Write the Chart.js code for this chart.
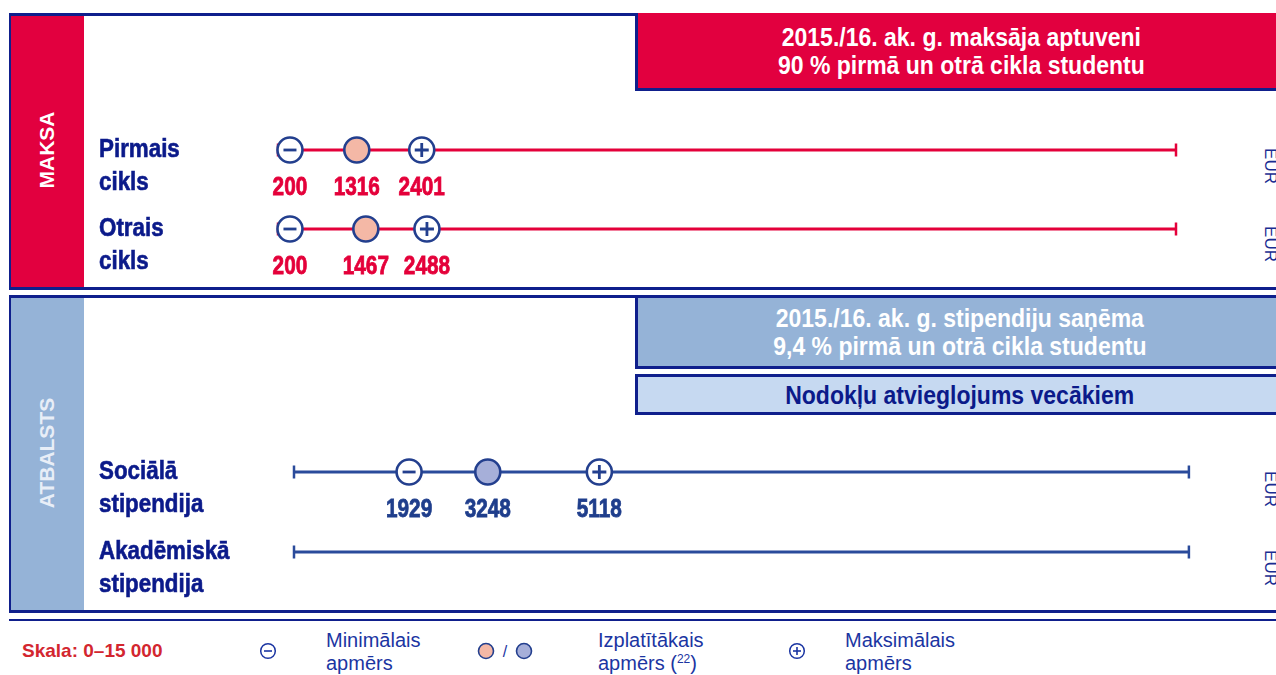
<!DOCTYPE html>
<html><head><meta charset="utf-8">
<script src="https://cdn.jsdelivr.net/npm/chart.js@4.4.1/dist/chart.umd.min.js"></script>
<style>
html,body{margin:0;padding:0;}
body{width:1276px;height:675px;position:relative;overflow:hidden;background:#fff;font-family:"Liberation Sans",Arial,sans-serif;}
.a{position:absolute;box-sizing:border-box;}
.frame{border:3px solid #0f1f8c;left:9px;width:1300px;}
.side{left:11px;width:73px;}
.vt{position:absolute;white-space:nowrap;transform:translate(-50%,-50%) rotate(-90deg);font-weight:bold;font-size:21px;}
.eur{position:absolute;white-space:nowrap;transform:translate(-50%,-50%) rotate(90deg);font-size:17px;color:#1a2d92;}
.box{left:635px;width:660px;border:3px solid #0f1f8c;display:flex;flex-direction:column;align-items:center;justify-content:center;padding-right:10px;}
.btxt{font-weight:bold;font-size:25px;line-height:28px;text-align:center;white-space:nowrap;transform:scaleX(0.92);}
.leg{font-size:20px;color:#1b35a2;line-height:23px;white-space:nowrap;}
canvas{position:absolute;}
</style>
</head><body>
<!-- panel 1 -->
<div class="a frame" style="top:13px;height:277px;"></div>
<div class="a side" style="top:16px;height:271px;background:#E2003F;"></div>
<div class="vt" style="left:47px;top:150px;color:#fff;">MAKSA</div>
<div class="a box" style="top:13px;height:78px;background:#E2003F;border-top:none;border-right:none;">
  <div class="btxt" style="color:#fff;">2015./16. ak. g. maksāja aptuveni<br>90 % pirmā un otrā cikla studentu</div>
</div>
<!-- panel 2 -->
<div class="a frame" style="top:295px;height:318px;"></div>
<div class="a side" style="top:298px;height:312px;background:#95B3D7;"></div>
<div class="vt" style="left:47px;top:453px;color:#e8eef7;">ATBALSTS</div>
<div class="a box" style="top:295px;height:74px;background:#95B3D7;">
  <div class="btxt" style="color:#fff;">2015./16. ak. g. stipendiju saņēma<br>9,4 % pirmā un otrā cikla studentu</div>
</div>
<div class="a box" style="top:374px;height:41px;background:#C6D9F1;">
  <div class="btxt" style="color:#0b1a8a;">Nodokļu atvieglojums vecākiem</div>
</div>
<div class="eur" style="left:1270px;top:166px;">EUR</div>
<div class="eur" style="left:1270px;top:244px;">EUR</div>
<div class="eur" style="left:1270px;top:489px;">EUR</div>
<div class="eur" style="left:1270px;top:568px;">EUR</div>
<!-- legend -->
<div class="a" style="left:9px;top:619px;width:1280px;height:2px;background:#0f1f8c;"></div>
<div class="a" id="skala" style="left:22px;top:640px;font-weight:bold;font-size:19px;color:#D3262F;white-space:nowrap;"></div>
<svg class="a" style="left:259px;top:642px;" width="18" height="18"><circle cx="9" cy="9" r="7.3" fill="#fff" stroke="#1b35a2" stroke-width="1.5"/><line x1="5" y1="9" x2="13" y2="9" stroke="#1b35a2" stroke-width="1.6"/></svg>
<div class="a leg" style="left:326px;top:629px;">Minimālais<br>apmērs</div>
<svg class="a" style="left:476px;top:642px;" width="60" height="18"><circle cx="10" cy="9" r="7.5" fill="#F4B8A6" stroke="#233f8e" stroke-width="1.6"/><text x="29" y="15" font-size="16" fill="#1b35a2" text-anchor="middle" font-family="Liberation Sans">/</text><circle cx="48" cy="9" r="7.5" fill="#A6AFD9" stroke="#233f8e" stroke-width="1.6"/></svg>
<div class="a leg" style="left:598px;top:629px;">Izplatītākais<br>apmērs (<sup style="font-size:12px;line-height:0;vertical-align:7px;">22</sup>)</div>
<svg class="a" style="left:788px;top:642px;" width="18" height="18"><circle cx="9" cy="9" r="7.3" fill="#fff" stroke="#1b35a2" stroke-width="1.5"/><line x1="5" y1="9" x2="13" y2="9" stroke="#1b35a2" stroke-width="1.6"/><line x1="9" y1="5" x2="9" y2="13" stroke="#1b35a2" stroke-width="1.6"/></svg>
<div class="a leg" style="left:845px;top:629px;">Maksimālais<br>apmērs</div>

<canvas id="fee" style="left:84px;top:95px;" width="1110" height="195"></canvas>
<canvas id="sup" style="left:84px;top:420px;" width="1120" height="190"></canvas>

<script>
// ---- data ----
const scaleMin = 0;
const scaleMax = 15000;
const feeCategories = ['Pirmais cikls', 'Otrais cikls'];
const feeMin = [200, 200];
const feeMedian = [1316, 1467];
const feeMax = [2401, 2488];
const supportCategories = ['Sociālā stipendija', 'Akadēmiskā stipendija'];
const supportMin = [1929, null];
const supportMedian = [3248, null];
const supportMax = [5118, null];

document.getElementById('skala').textContent =
  'Skala: ' + scaleMin + '–' + String(scaleMax).replace(/\B(?=(\d{3})+(?!\d))/g, ' ');

const NAVY = '#233f8e';
const LABEL_NAVY = '#0b1a8a';

// condensed value labels under markers
const valueLabelPlugin = {
  id: 'valueLabels',
  afterDatasetsDraw(chart) {
    const ctx = chart.ctx;
    chart.data.datasets.forEach((ds, i) => {
      if (!ds.valueLabel) return;
      const meta = chart.getDatasetMeta(i);
      meta.data.forEach((el, j) => {
        const raw = ds.data[j];
        ctx.save();
        ctx.translate(el.x, el.y + ds.valueLabel.offset);
        ctx.scale(0.8, 1);
        ctx.font = ds.valueLabel.font;
        ctx.fillStyle = ds.valueLabel.color;
        ctx.strokeStyle = ds.valueLabel.color;
        ctx.lineWidth = 0.8;
        ctx.textAlign = 'center';
        ctx.textBaseline = 'middle';
        ctx.fillText(String(raw.x), 0, 0);
        ctx.strokeText(String(raw.x), 0, 0);
        ctx.restore();
      });
    });
  }
};

// category labels of the y scale, drawn at the scale's tick positions (two lines, condensed)
const rowLabelPlugin = {
  id: 'rowLabels',
  afterDraw(chart) {
    const s = chart.scales.y;
    const ctx = chart.ctx;
    s.ticks.forEach((t, i) => {
      const l = s.getLabelForValue(t.value);
      const k = l.indexOf(' ');
      const lines = [l.slice(0, k), l.slice(k + 1)];
      const y = s.getPixelForTick(i);
      ctx.save();
      ctx.font = 'bold 26px "Liberation Sans", Arial, sans-serif';
      ctx.fillStyle = LABEL_NAVY;
      ctx.strokeStyle = LABEL_NAVY;
      ctx.lineWidth = 0.6;
      ctx.textAlign = 'left';
      ctx.textBaseline = 'alphabetic';
      lines.forEach((ln, n) => {
        ctx.save();
        ctx.translate(s.left, y + 7 + n * 33);
        ctx.scale(0.86, 1);
        ctx.fillText(ln, 0, 0);
        ctx.strokeText(ln, 0, 0);
        ctx.restore();
      });
      ctx.restore();
    });
  }
};

function pts(cats, vals) {
  return cats.map((c, i) => vals[i] == null ? null : { x: vals[i], y: c }).filter(p => p);
}

function build(canvasId, cats, mins, meds, maxs, cfg) {
  const valFont = 'bold 26px "Liberation Sans", Arial, sans-serif';
  const datasets = [];
  cats.forEach(c => {
    datasets.push({
      data: [{ x: scaleMin, y: c }, { x: scaleMax, y: c }],
      showLine: true, borderColor: cfg.lineColor, borderWidth: 3,
      pointStyle: 'line', pointRotation: 90, pointRadius: 6.5,
      pointBorderColor: cfg.lineColor, pointBorderWidth: 2.5, order: 10, clip: false
    });
  });
  const circle = (vals, fill) => ({
    data: pts(cats, vals), pointStyle: 'circle', pointRadius: 12.5,
    pointBackgroundColor: fill, pointBorderColor: NAVY, pointBorderWidth: 2.6,
    order: 5, clip: false,
    valueLabel: { font: valFont, color: cfg.valueColor, offset: 38 }
  });
  datasets.push(circle(mins, '#ffffff'));
  datasets.push(circle(meds, cfg.medianFill));
  datasets.push(circle(maxs, '#ffffff'));
  datasets.push({ data: pts(cats, mins), pointStyle: 'line', pointRadius: 6.5,
    pointBorderColor: NAVY, pointBorderWidth: 2.8, order: 1, clip: false });
  datasets.push({ data: pts(cats, maxs), pointStyle: 'cross', pointRadius: 7,
    pointBorderColor: NAVY, pointBorderWidth: 2.8, order: 1, clip: false });

  return new Chart(document.getElementById(canvasId), {
    type: 'scatter',
    data: { yLabels: cats, datasets },
    options: {
      responsive: false, animation: false, events: [],
      layout: { padding: cfg.padding },
      plugins: { legend: { display: false }, tooltip: { enabled: false } },
      scales: {
        x: { type: 'linear', min: scaleMin, max: scaleMax, display: false },
        y: {
          type: 'category', labels: cats, offset: false,
          grid: { display: false }, border: { display: false },
          afterFit: (s) => { s.width = cfg.axisWidth; },
          ticks: { display: false }
        }
      }
    },
    plugins: [valueLabelPlugin, rowLabelPlugin]
  });
}

build('fee', feeCategories, feeMin, feeMedian, feeMax, {
  lineColor: '#E4003A', valueColor: '#E4003A', medianFill: '#F4B8A6',
  padding: { left: 15, right: 18, top: 55, bottom: 61 }, axisWidth: 179
});
build('sup', supportCategories, supportMin, supportMedian, supportMax, {
  lineColor: '#2A4B9B', valueColor: '#1f3e8c', medianFill: '#A6AFD9',
  padding: { left: 15, right: 15, top: 52, bottom: 58 }, axisWidth: 195
});
</script>
</body></html>
